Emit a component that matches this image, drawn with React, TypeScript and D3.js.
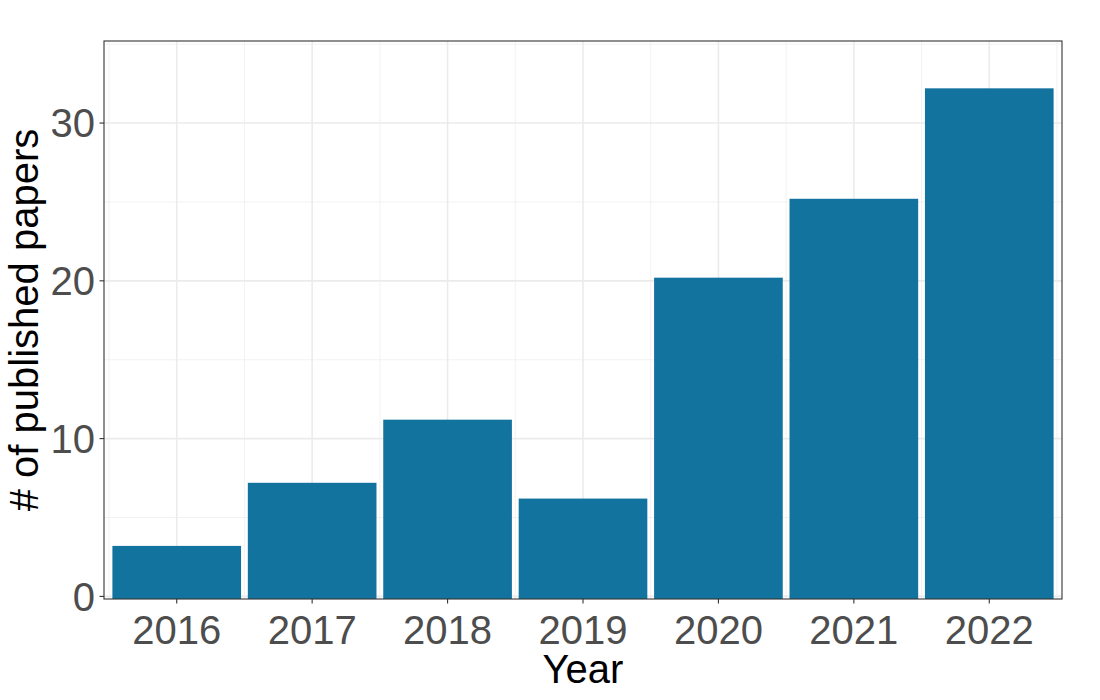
import React from "react";
import * as d3 from "d3";

const years = ["2016", "2017", "2018", "2019", "2020", "2021", "2022"];
const papers = [3.2, 7.2, 11.2, 6.2, 20.2, 25.2, 32.2];
const yMajorTicks = [0, 10, 20, 30];
const yMinorTicks = [5, 15, 25, 35];

const W = 1100;
const H = 700;
const panel = { left: 104, right: 1062, top: 41, bottom: 599 };
const FONT = "'Liberation Sans', Arial, Helvetica, sans-serif";
const BAR = "#12739f";
const GRID = "#ebebeb";

export default function App() {
  const x = d3
    .scaleLinear()
    .domain([-0.537, years.length - 1 + 0.537])
    .range([panel.left, panel.right]);
  const y = d3.scaleLinear().domain([-0.165, 35.2]).range([panel.bottom, panel.top]);
  const bw = (x(1) - x(0)) * 0.95;
  const xMinor = d3.range(-0.5, years.length, 1);

  return (
    <svg width={W} height={H} style={{ display: "block", position: "absolute", left: 0, top: 0 }}>
      <rect x={0} y={0} width={W} height={H} fill="#fff" />
      {/* grid */}
      {yMinorTicks.map((t) => (
        <line key={"ym" + t} x1={panel.left} x2={panel.right} y1={y(t)} y2={y(t)} stroke={GRID} strokeWidth={1} opacity={0.6} />
      ))}
      {xMinor.map((t) => (
        <line key={"xm" + t} x1={x(t)} x2={x(t)} y1={panel.top} y2={panel.bottom} stroke={GRID} strokeWidth={1} opacity={0.6} />
      ))}
      {yMajorTicks.map((t) => (
        <line key={"yM" + t} x1={panel.left} x2={panel.right} y1={y(t)} y2={y(t)} stroke={GRID} strokeWidth={1.6} />
      ))}
      {years.map((_, i) => (
        <line key={"xM" + i} x1={x(i)} x2={x(i)} y1={panel.top} y2={panel.bottom} stroke={GRID} strokeWidth={1.6} />
      ))}
      {/* bars */}
      {papers.map((v, i) => (
        <rect
          key={"b" + i}
          x={x(i) - bw / 2}
          y={y(v)}
          width={bw}
          height={y.range()[0] - y(v)}
          fill={BAR}
        />
      ))}
      {/* border */}
      <rect
        x={panel.left}
        y={panel.top}
        width={panel.right - panel.left}
        height={panel.bottom - panel.top}
        fill="none"
        stroke="#333"
        strokeWidth={1.1}
      />
      {/* y axis */}
      {yMajorTicks.map((t) => (
        <g key={"yt" + t}>
          <line x1={panel.left - 4.5} x2={panel.left} y1={y(t)} y2={y(t)} stroke="#333" strokeWidth={1.1} />
          <text
            x={panel.left - 9}
            y={y(t)}
            dy="0.36em"
            textAnchor="end"
            fontFamily={FONT}
            fontSize={40}
            fill="#4d4d4d"
          >
            {t}
          </text>
        </g>
      ))}
      {/* x axis */}
      {years.map((yr, i) => (
        <g key={"xt" + yr}>
          <line x1={x(i)} x2={x(i)} y1={panel.bottom} y2={panel.bottom + 4.5} stroke="#333" strokeWidth={1.1} />
          <text x={x(i)} y={644} textAnchor="middle" fontFamily={FONT} fontSize={40} fill="#4d4d4d">
            {yr}
          </text>
        </g>
      ))}
      <text x={(panel.left + panel.right) / 2} y={683} textAnchor="middle" fontFamily={FONT} fontSize={40} fill="#000">
        Year
      </text>
      <text
        transform={`translate(38,${(panel.top + panel.bottom) / 2}) rotate(-90)`}
        textAnchor="middle"
        fontFamily={FONT}
        fontSize={40}
        fill="#000"
      >
        # of published papers
      </text>
    </svg>
  );
}
